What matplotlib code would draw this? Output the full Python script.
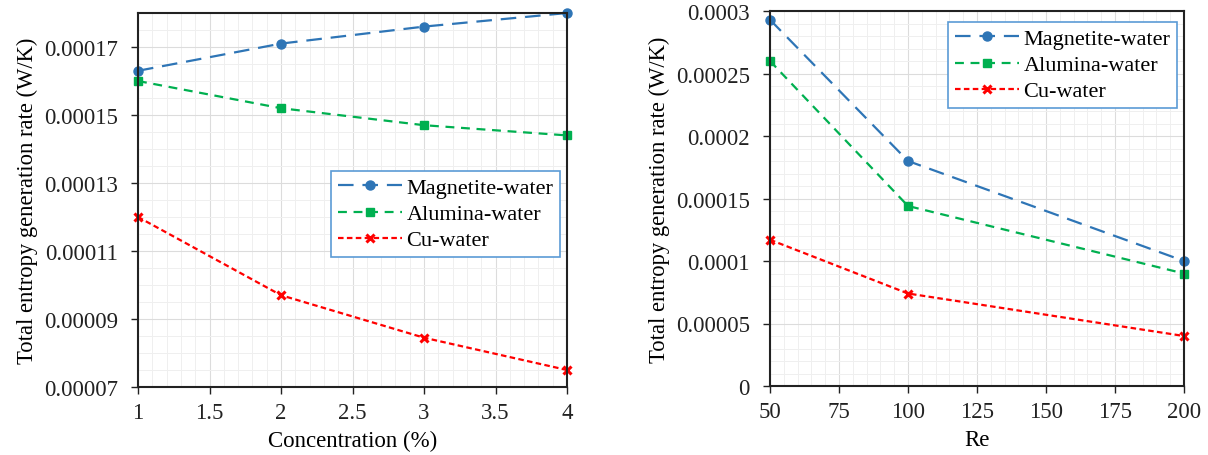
import numpy as np
import matplotlib.pyplot as plt
from matplotlib.ticker import MultipleLocator, FormatStrFormatter

plt.rcParams['font.family'] = 'Liberation Serif'

conc = [1, 2, 3, 4]
conc_magnetite = [0.000163, 0.000171, 0.000176, 0.000180]
conc_alumina = [0.000160, 0.000152, 0.000147, 0.000144]
conc_cu = [0.000120, 0.000097, 0.0000845, 0.000075]

re = [50, 100, 200]
re_magnetite = [0.000293, 0.000180, 0.000100]
re_alumina = [0.000260, 0.000144, 0.000090]
re_cu = [0.000117, 0.000074, 0.000040]

labels = ['Magnetite-water', 'Alumina-water', 'Cu-water']
blue = '#2e75b6'
green = '#00b050'
red = '#ff0000'

fig = plt.figure(figsize=(12.08, 4.56), dpi=100)
ax1 = fig.add_axes([138/1208, 1 - 388/456, (567-138)/1208, (388-14)/456])
ax2 = fig.add_axes([770/1208, 1 - 387/456, (1184-770)/1208, (387-12)/456])


def draw(ax, x, ys):
    ax.plot(x, ys[0], color=blue, lw=1.6, dashes=(7, 4), marker='o', ms=6.5, label=labels[0])
    ax.plot(x, ys[1], color=green, lw=1.6, dashes=(4, 3), marker='s', ms=5.5, label=labels[1])
    ax.plot(x, ys[2], color=red, lw=1.6, dashes=(2.5, 1.5), marker='x', ms=5.5, mew=2.2, label=labels[2])
    ax.grid(which='major', color='#dcdcdc', lw=0.8)
    ax.grid(which='minor', color='#efefef', lw=0.7)
    ax.set_axisbelow(True)
    for s in ax.spines.values():
        s.set_color('#222222')
        s.set_linewidth(1.5)
    ax.tick_params(which='major', direction='out', length=5, width=1, labelsize=16.5,
                   colors='#222222')
    ax.tick_params(axis='y', which='major', pad=9.5)
    ax.tick_params(axis='x', which='major', pad=6)
    ax.tick_params(which='minor', length=0)
    ax.set_ylabel('Total entropy generation rate (W/K)', fontsize=16.3, labelpad=4)
    leg = ax.legend(fontsize=16, fancybox=False, framealpha=1, handlelength=2.9,
                    handletextpad=0.2, borderpad=0.3, labelspacing=0.25, borderaxespad=0)
    leg.get_frame().set_edgecolor('#5b9bd5')
    leg.get_frame().set_linewidth(1.2)
    return leg


leg1 = draw(ax1, conc, [conc_magnetite, conc_alumina, conc_cu])
ax1.set_xlim(1, 4)
ax1.set_ylim(0.00007, 0.00018)
ax1.xaxis.set_major_locator(MultipleLocator(0.5))
ax1.xaxis.set_minor_locator(MultipleLocator(0.1))
ax1.xaxis.set_major_formatter(lambda v, p: f'{v:g}')
ax1.set_yticks([0.00007, 0.00009, 0.00011, 0.00013, 0.00015, 0.00017])
ax1.yaxis.set_major_formatter(FormatStrFormatter('%.5f'))
ax1.yaxis.set_minor_locator(MultipleLocator(0.000005))
ax1.set_xlabel('Concentration (%)', fontsize=16.5, labelpad=4.5)
leg1.set_bbox_to_anchor((560/1208, 1 - 172/456), transform=fig.transFigure)
leg1._loc = 1

leg2 = draw(ax2, re, [re_magnetite, re_alumina, re_cu])
ax2.set_xlim(50, 200)
ax2.set_ylim(0, 0.0003)
ax2.xaxis.set_major_locator(MultipleLocator(25))
ax2.xaxis.set_minor_locator(MultipleLocator(5))
ax2.set_yticks([0, 0.00005, 0.0001, 0.00015, 0.0002, 0.00025, 0.0003])
ax2.yaxis.set_major_formatter(lambda v, p: '0' if v == 0 else f'{v:.5f}'.rstrip('0'))
ax2.yaxis.set_minor_locator(MultipleLocator(0.00001))
ax2.set_xlabel('Re', fontsize=16.5, labelpad=4.5)
leg2.set_bbox_to_anchor((1177/1208, 1 - 23/456), transform=fig.transFigure)
leg2._loc = 1

for ax in (ax1, ax2):
    for l in ax.get_lines():
        l.set_clip_on(False)

fig.savefig('out.png', dpi=100)
